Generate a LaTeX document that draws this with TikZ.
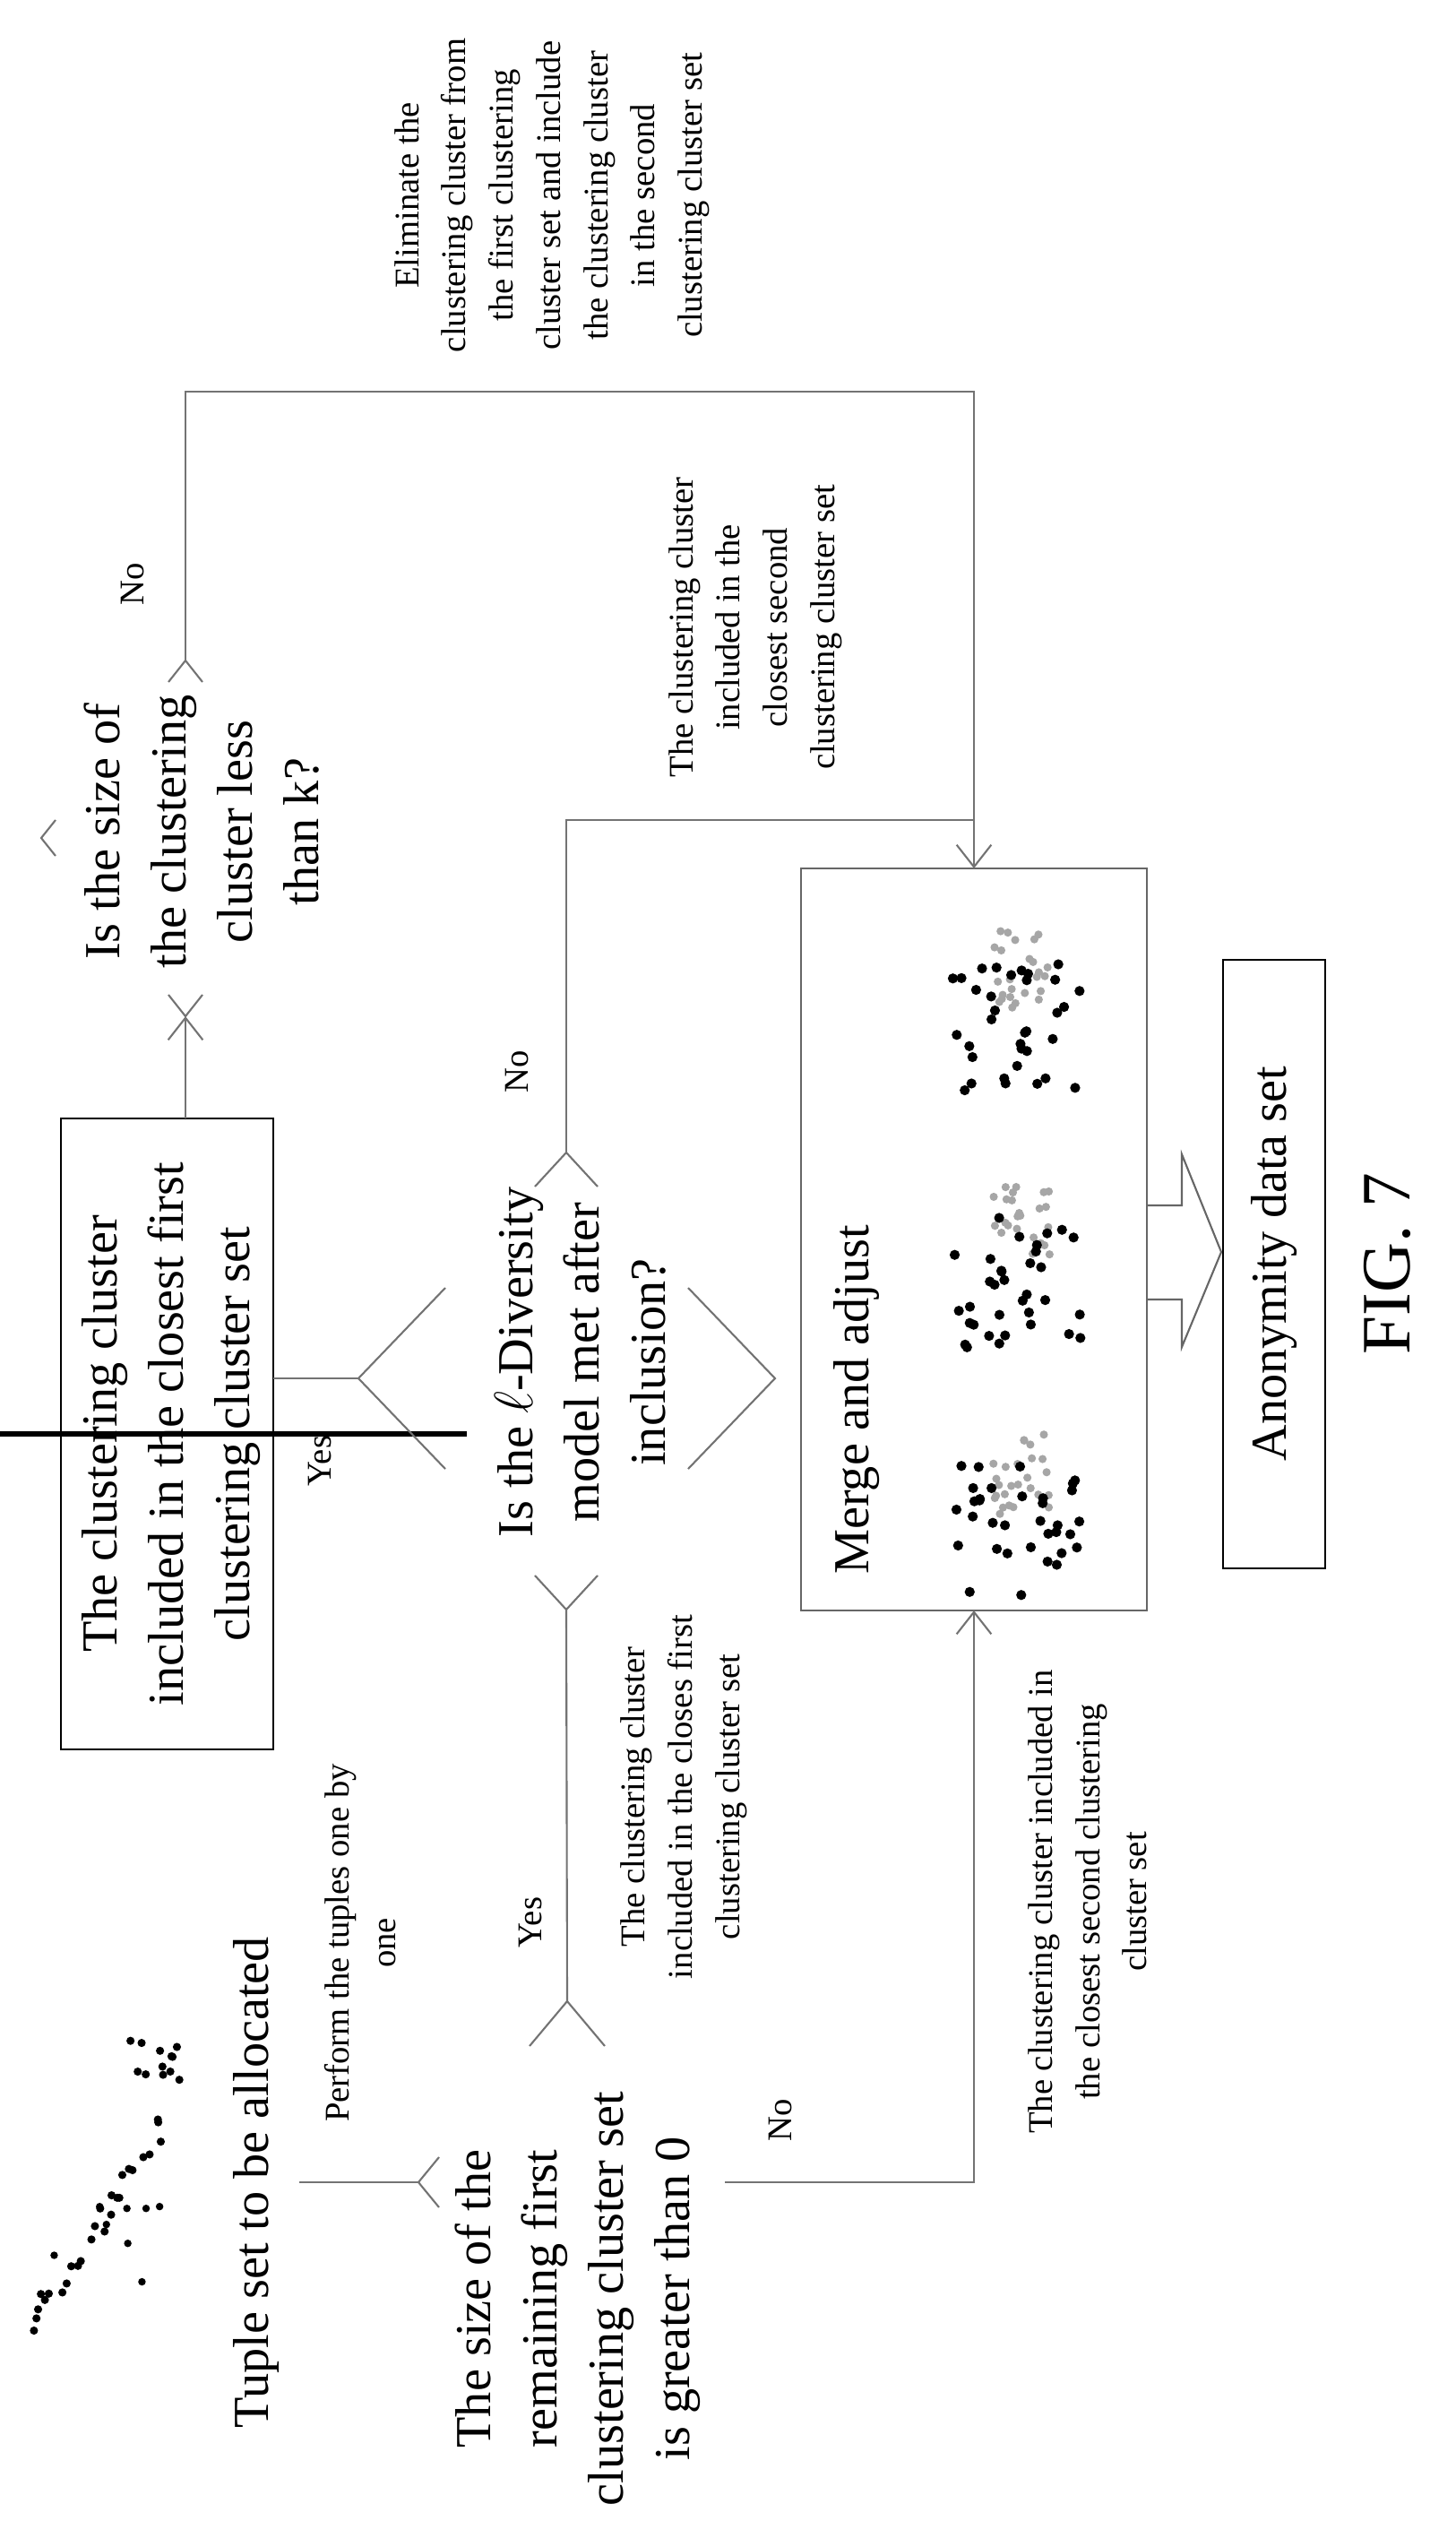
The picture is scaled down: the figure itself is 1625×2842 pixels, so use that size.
\documentclass[tikz,border=0pt]{standalone}
\usepackage{fontspec}
\setmainfont{Liberation Serif}
\usetikzlibrary{arrows.meta}
\begin{document}
\begin{tikzpicture}[x=0.01cm,y=-0.01cm,
  big/.style={rotate=90,align=center,font=\fontsize{16}{21}\selectfont,inner sep=0pt},
  small/.style={rotate=90,align=center,font=\fontsize{11}{15}\selectfont,inner sep=0pt},
  box/.style={draw=black,line width=0.8pt},
  conn/.style={draw=black!55,line width=0.6pt},
  tip/.style={-{Straight Barb[length=7pt,width=11pt]}},
  dot/.style={fill=black}]
\useasboundingbox (0,0) rectangle (1625,2842);
% boxes
\node[box,minimum width=237\pgflinewidth,inner sep=0pt] (b1) at (186.5,1600) {};
\draw[box] (68,1248) rectangle (305,1952);
\node[big] (b1t) at (191,1600) {The clustering cluster\\included in the closest first\\clustering cluster set};
\draw[black!60,line width=0.6pt] (894,969) rectangle (1280,1797);
\node[big] (mt) at (956,1562) {Merge and adjust};
\draw[box] (1365,1071) rectangle (1479,1750);
\node[big] (an) at (1422,1410) {Anonymity data set};
\node[rotate=90,font=\fontsize{22}{26}\selectfont] (fig) at (1548,1410) {FIG. 7};
% texts
\node[big] (d1) at (225,928) {Is the size of\\the clustering\\cluster less\\than k?};
\node[big] (d2) at (648,1520) {Is the $\ell$-Diversity\\model met after\\inclusion?};
\node[big] (tp) at (286,2435) {Tuple set to be allocated};
\node[big] (d3) at (645,2565) {The size of the\\remaining first\\clustering cluster set\\is greater than 0};
\node[small] (pf) at (402,2168) {Perform the tuples one by\\one};
\node[small] (el) at (616,218) {Eliminate the\\clustering cluster from\\the first clustering\\cluster set and include\\the clustering cluster\\in the second\\clustering cluster set};
\node[small] (l1) at (843,700) {The clustering cluster\\included in the\\closest second\\clustering cluster set};
\node[small] (l2) at (763,2005) {The clustering cluster\\included in the closes first\\clustering cluster set};
\node[small] (l3) at (1214,2122) {The clustering cluster included in\\the closest second clustering\\cluster set};
\node[small] (y1) at (357,1630) {Yes};
\node[small] (y2) at (592,2145) {Yes};
\node[small] (n1) at (148,652) {No};
\node[small] (n2) at (577,1196) {No};
\node[small] (n3) at (871,2366) {No};
% coordinates
\coordinate (b1top) at (207,1248);
\coordinate (b1r) at (305,1538);
\coordinate (d1b) at (207,1134);
\coordinate (d1t) at (207,737);
\coordinate (d1l) at (46,935);
\coordinate (d2t) at (400,1538);
\coordinate (d2b) at (865,1538);
\coordinate (d2l) at (632,1286);
\coordinate (d2r) at (632,1796);
\coordinate (d3t) at (467,2435);
\coordinate (d3l) at (633,2233);
\coordinate (d3b) at (809,2435);
\coordinate (tpr) at (334,2435);
\coordinate (mtop) at (1087,969);
\coordinate (mbot) at (1087,1797);
\coordinate (c1) at (207,437);
\coordinate (c2) at (1087,437);
\coordinate (c3) at (632,915);
\coordinate (c4) at (1087,915);
\coordinate (c5) at (1087,2435);
% diamond corner fragments
\draw[conn] (188,1110) -- (d1b) -- (226,1110);
\draw[conn] (188,761) -- (d1t) -- (226,761);
\draw[conn] (62,915) -- (d1l) -- (62,955);
\draw[conn] (497,1437) -- (d2t) -- (497,1639);
\draw[conn] (768,1437) -- (d2b) -- (768,1639);
\draw[conn] (597,1324) -- (d2l) -- (667,1324);
\draw[conn] (597,1758) -- (d2r) -- (667,1758);
\draw[conn] (490,2407) -- (d3t) -- (490,2463);
\draw[conn] (591,2283) -- (d3l) -- (675,2283);
% connectors
\draw[conn,tip] (b1top) -- (d1b);
\draw[conn,tip] (d1t) -- (c1) -- (c2) -- (mtop);
\draw[conn] (b1r) -- (d2t);
\draw[conn] (d2l) -- (c3) -- (c4);
\draw[conn] (d3l) -- (d2r);
\draw[conn] (tpr) -- (d3t);
\draw[conn,tip] (d3b) -- (c5) -- (mbot);
% block arrow
\draw[black!60,line width=0.6pt] (1280,1345) -- (1319,1345) -- (1319,1288) -- (1363,1397) -- (1319,1503) -- (1319,1450) -- (1280,1450);
% scatter of tuples
\pgfmathsetseed{11}
\foreach \i in {0,...,26}{
  \pgfmathsetmacro\t{\i/26}
  \pgfmathsetmacro\px{30+150*\t+rand*12}
  \pgfmathsetmacro\py{2600-230*\t+90*sin(180*\t)*0+rand*14}
  \fill (\px,\py) circle[radius=1.3pt];}
\foreach \i in {1,...,12}{
  \fill (170+rand*35,2300+rand*30) circle[radius=1.3pt];}
\foreach \i in {1,...,8}{
  \fill (120+rand*60,2520+rand*60) circle[radius=1.2pt];}
% merged clusters
\foreach \cy in {1135,1420,1700}{
  \foreach \i in {1,...,26}{
    \fill[black!35] (1140+rand*32,\cy-55+rand*45) circle[radius=1.3pt];}
  \foreach \i in {1,...,34}{
    \fill (1135+rand*72,\cy+10+rand*75) circle[radius=1.6pt];}
}
\end{tikzpicture}
\end{document}
